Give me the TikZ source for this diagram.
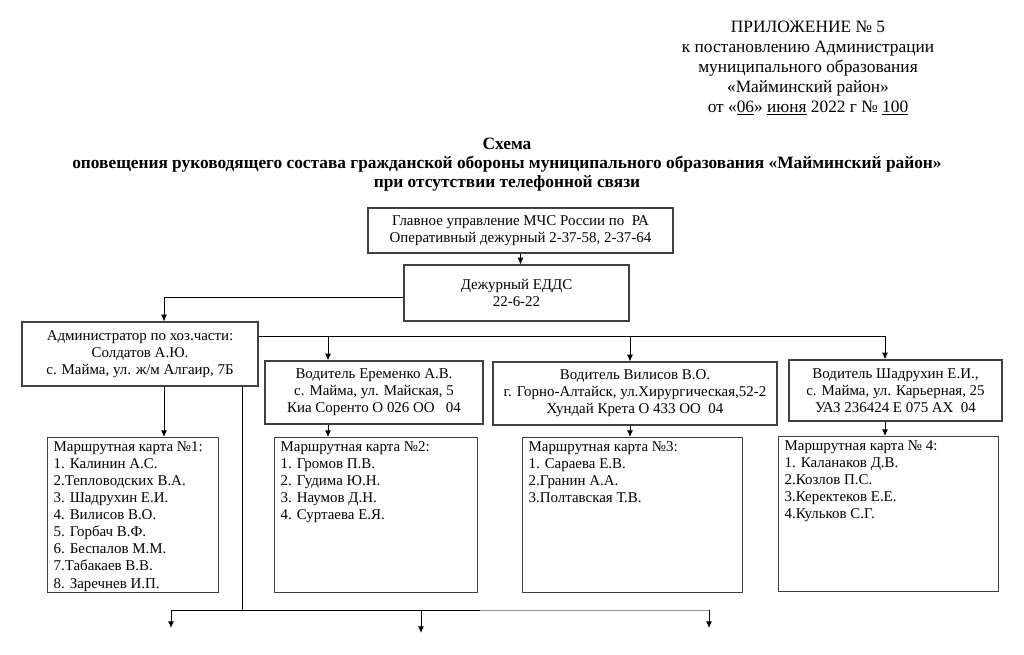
\documentclass[tikz,border=0pt]{standalone}
\usepackage{fontspec}
\setmainfont{Liberation Serif}
\usepackage{tikz}
\usetikzlibrary{arrows.meta,positioning}

\newcommand{\boxfont}{\fontsize{11.2pt}{12.8pt}\selectfont}
\newcommand{\headfont}{\fontsize{13pt}{15pt}\selectfont}
\newcommand{\titlefont}{\fontsize{13pt}{14.25pt}\selectfont\bfseries}
\newcommand{\cardlist}[2]{\parbox[t][110pt][t]{#1}{#2}}

\begin{document}
\begin{tikzpicture}[x=0.75pt, y=-0.75pt,
  box/.style={rectangle, draw=black!75, line width=0.9pt, align=center,
    font=\boxfont, inner sep=2pt},
  cardbox/.style={rectangle, draw=black!75, line width=0.9pt, anchor=north west,
    align=left, font=\boxfont, inner xsep=4.5pt, inner ysep=3pt},
  arr/.style={-{Latex[length=5pt,width=4.5pt]}, line width=0.7pt},
  link/.style={line width=0.7pt}
]
\useasboundingbox (0,0) rectangle (1024,654);

% header
\node[font=\headfont, align=center] (appx) at (808,68)
  {ПРИЛОЖЕНИЕ № 5\\ к постановлению Администрации\\ муниципального образования\\
   «Майминский район»\\ от «\underline{06}» \underline{июня} 2022 г № \underline{100}};
\node[font=\titlefont, align=center] (title) at (507,165)
  {Схема\\ оповещения руководящего состава гражданской обороны муниципального образования «Майминский район»\\
   при отсутствии телефонной связи};

% upper boxes
\node[box, minimum width=228.75pt, minimum height=33.75pt] (mchs) at (520.5,230.5)
  {Главное управление МЧС России по~ РА\\ Оперативный дежурный 2-37-58, 2-37-64};
\node[box, minimum width=168.75pt, minimum height=42pt] (edds) at (516.5,293)
  {Дежурный ЕДДС\\ 22-6-22};
\node[box, minimum width=177pt, minimum height=48pt] (admin) at (140,354)
  {Администратор по хоз.части:\\ Солдатов А.Ю.\\ с. Майма, ул. ж/м Алгаир, 7Б};
\node[box, minimum width=163.5pt, minimum height=47.25pt] (erem) at (374,392.5)
  {Водитель Еременко А.В.\\ с. Майма, ул. Майская, 5\\ Киа Соренто О 026 ОО~~ 04};
\node[box, minimum width=213pt, minimum height=47.25pt] (vil) at (635,393.5)
  {Водитель Вилисов В.О.\\ г. Горно-Алтайск, ул.Хирургическая,52-2\\ Хундай Крета О 433 ОО~ 04};
\node[box, minimum width=159.75pt, minimum height=45.75pt] (shad) at (895.5,390.5)
  {Водитель Шадрухин Е.И.,\\ с. Майма, ул. Карьерная, 25\\ УАЗ 236424 Е 075 АХ~ 04};

% route cards
\node[cardbox] (card1) at (47,437) {\cardlist{119.25pt}{Маршрутная карта №1:\\ 1. Калинин А.С.\\
  2.Тепловодских В.А.\\ 3. Шадрухин Е.И.\\ 4. Вилисов В.О.\\ 5. Горбач В.Ф.\\
  6. Беспалов М.М.\\ 7.Табакаев В.В.\\ 8. Заречнев И.П.}};
\node[cardbox] (card2) at (274,437) {\cardlist{143.25pt}{Маршрутная карта №2:\\ 1. Громов П.В.\\
  2. Гудима Ю.Н.\\ 3. Наумов Д.Н.\\ 4. Суртаева Е.Я.}};
\node[cardbox] (card3) at (522,437) {\cardlist{156pt}{Маршрутная карта №3:\\ 1. Сараева Е.В.\\
  2.Гранин А.А.\\ 3.Полтавская Т.В.}};
\node[cardbox] (card4) at (778,436) {\cardlist{156pt}{Маршрутная карта № 4:\\ 1. Каланаков Д.В.\\
  2.Козлов П.С.\\ 3.Керектеков Е.Е.\\ 4.Кульков С.Г.}};

% junctions
\coordinate (a1) at (164,297);
\coordinate (b1) at (328,336);
\coordinate (b2) at (630,336);
\coordinate (b3) at (885,336);
\coordinate (d0) at (242,610);
\coordinate (fade) at (480,610);
\coordinate (out1) at (171,628);
\coordinate (out2) at (421,633);
\coordinate (out3) at (709,628);

\draw[arr] (mchs.south) -- (mchs.south |- edds.north);
\draw[arr] (edds.west |- a1) -- (a1) -- (a1 |- admin.north);

% admin to drivers
\draw[arr] (admin.east |- b3) -- (b3) -- (b3 |- shad.north);
\draw[arr] (b1) -- (b1 |- erem.north);
\draw[arr] (b2) -- (b2 |- vil.north);

% drivers to cards
\draw[arr] (a1 |- admin.south) -- (a1 |- card1.north);
\draw[arr] (b1 |- erem.south) -- (b1 |- card2.north);
\draw[arr] (b2 |- vil.south) -- (b2 |- card3.north);
\draw[arr] (b3 |- shad.south) -- (b3 |- card4.north);

% lower branch
\draw[link] (d0 |- admin.south) -- (d0);
\draw[link] (out1 |- d0) -- (fade);
\draw[link, draw=black!40] (fade) -- (out3 |- d0);
\draw[arr] (out1 |- d0) -- (out1);
\draw[arr] (out2 |- d0) -- (out2);
\draw[arr] (out3 |- d0) -- (out3);

\end{tikzpicture}
\end{document}
